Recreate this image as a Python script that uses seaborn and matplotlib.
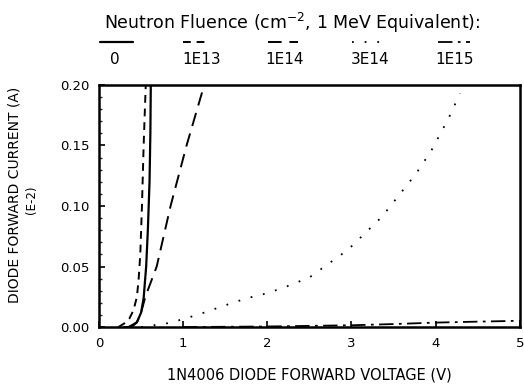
import matplotlib
matplotlib.use("Agg")
import matplotlib.pyplot as plt
from matplotlib.lines import Line2D
import seaborn as sns

# Forward I-V curves of a 1N4006 diode after neutron irradiation (current in units of 1E-2 A)
fluence_labels = ["0", "1E13", "1E14", "3E14", "1E15"]

v_0 = [0.30, 0.35, 0.40, 0.45, 0.50, 0.53, 0.56, 0.58, 0.60, 0.61, 0.615]
i_0 = [0.0, 0.0, 0.001, 0.004, 0.012, 0.024, 0.05, 0.08, 0.12, 0.16, 0.20]

v_1e13 = [0.23, 0.30, 0.36, 0.41, 0.45, 0.47, 0.49, 0.51, 0.53, 0.555]
i_1e13 = [0.0, 0.003, 0.007, 0.014, 0.025, 0.039, 0.06, 0.10, 0.15, 0.20]

v_1e14 = [0.35, 0.45, 0.50, 0.55, 0.685, 0.85, 1.04, 1.25]
i_1e14 = [0.0, 0.004, 0.012, 0.025, 0.05, 0.10, 0.15, 0.20]

v_3e14 = [0.50, 0.80, 1.00, 1.25, 1.50, 1.75, 2.00, 2.21, 2.50, 2.96, 3.36, 3.77, 3.95, 4.15, 4.29]
i_3e14 = [0.0, 0.003, 0.0065, 0.012, 0.018, 0.0237, 0.028, 0.033, 0.041, 0.064, 0.091, 0.127, 0.146, 0.172, 0.193]

v_1e15 = [1.0, 2.0, 2.5, 3.0, 3.5, 4.0, 4.5, 5.0]
i_1e15 = [0.0, 0.0005, 0.001, 0.0015, 0.0025, 0.0037, 0.0045, 0.0052]

x_ticks = [0, 1, 2, 3, 4, 5]
y_ticks = [0.00, 0.05, 0.10, 0.15, 0.20]
y_tick_labels = ["0.00", "0.05", "0.10", "0.15", "0.20"]

styles = [
    dict(linestyle="-", linewidth=1.6),
    dict(linestyle=(0, (4, 3)), linewidth=1.4),
    dict(linestyle=(0, (7, 4)), linewidth=1.4),
    dict(linestyle=(0, (1, 6)), linewidth=1.3),
    dict(linestyle=(0, (8, 3, 1.5, 3)), linewidth=1.3),
]

sns.set_style("ticks")
plt.rcParams["font.family"] = ["DejaVu Sans"]
plt.rcParams["text.color"] = "black"
plt.rcParams["axes.labelcolor"] = "black"

fig = plt.figure(figsize=(5.24, 3.88), dpi=100)
ax = fig.add_axes([0.189, 0.157, 0.803, 0.624])

series = [(v_0, i_0), (v_1e13, i_1e13), (v_1e14, i_1e14), (v_3e14, i_3e14), (v_1e15, i_1e15)]
for (vx, iy), st in zip(series, styles):
    sns.lineplot(x=vx, y=iy, ax=ax, color="black", sort=False, **st)

ax.set_xlim(0, 5)
ax.set_ylim(0, 0.20)
ax.set_xticks(x_ticks)
ax.set_xticklabels([str(t) for t in x_ticks])
ax.set_yticks(y_ticks)
ax.set_yticklabels(y_tick_labels)
ax.set_yticks([k / 100 for k in range(0, 21)], minor=True)
ax.tick_params(axis="both", which="major", direction="in", length=4, width=1.2,
               labelsize=9.5, pad=7, colors="black")
ax.tick_params(axis="y", which="minor", direction="in", length=2.5, width=1.0)
for s in ax.spines.values():
    s.set_visible(True)
    s.set_linewidth(1.8)
    s.set_color("black")

ax.set_xlabel("1N4006 DIODE FORWARD VOLTAGE (V)", fontsize=10.5, labelpad=13, color="black")
ax.set_ylabel("")
fig.text(0.027, 0.497, "DIODE FORWARD CURRENT (A)", rotation=90, fontsize=10,
         ha="center", va="center", color="black")
fig.text(0.060, 0.485, "(E-2)", rotation=90, fontsize=8.5, ha="center", va="center",
         color="black")

# Legend: line samples drawn above their labels
fig.text(0.557, 0.94, "Neutron Fluence (cm$^{-2}$, 1 MeV Equivalent):", fontsize=12.5,
         ha="center", va="center", color="black")
sample_x = [(100, 133), (183, 207), (268, 298), (352, 382), (438, 470)]
label_x = [115, 202, 285, 370, 455]
W, H = 524.0, 388.0
for (x0, x1), lx, lab, st in zip(sample_x, label_x, fluence_labels, styles):
    fig.add_artist(Line2D([x0 / W, x1 / W], [1 - 42 / H, 1 - 42 / H], color="black",
                          transform=fig.transFigure, **st))
    fig.text(lx / W, 1 - 60 / H, lab, fontsize=11, ha="center", va="center", color="black")

fig.savefig("out.png", dpi=100)
